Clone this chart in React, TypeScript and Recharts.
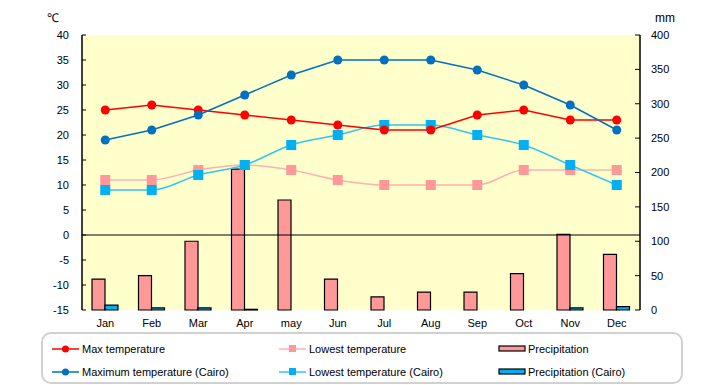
import { ComposedChart, Bar, Line, XAxis, YAxis, ReferenceLine } from 'recharts';

const months = ['Jan', 'Feb', 'Mar', 'Apr', 'may', 'Jun', 'Jul', 'Aug', 'Sep', 'Oct', 'Nov', 'Dec'];
const maxTemp = [25, 26, 25, 24, 23, 22, 21, 21, 24, 25, 23, 23];
const lowTemp = [11, 11, 13, 14, 13, 11, 10, 10, 10, 13, 13, 13];
const precip = [45, 50, 100, 205, 160, 45, 19, 26, 26, 53, 110, 81];
const maxTempCairo = [19, 21, 24, 28, 32, 35, 35, 35, 33, 30, 26, 21];
const lowTempCairo = [9, 9, 12, 14, 18, 20, 22, 22, 20, 18, 14, 10];
const precipCairo = [7, 3, 3, 1, 0, 0, 0, 0, 0, 0, 3, 5];

const tempTicks = [-15, -10, -5, 0, 5, 10, 15, 20, 25, 30, 35, 40];
const mmTicks = [0, 50, 100, 150, 200, 250, 300, 350, 400];

const RED = '#ff0000';
const BLUE = '#0070c0';
const PINK = '#ff9999';
const PINK_LINE = '#ffb0b0';
const CYAN = '#00b0f0';
const CYAN_LINE = '#33c4f4';
const FONT = '"Liberation Sans", Arial, sans-serif';

const data = months.map((m, i) => ({
  month: m,
  maxTemp: maxTemp[i],
  lowTemp: lowTemp[i],
  precip: precip[i],
  maxTempCairo: maxTempCairo[i],
  lowTempCairo: lowTempCairo[i],
  precipCairo: precipCairo[i],
}));

function squareDot(color: string) {
  return (props: any) => {
    const { cx, cy, index } = props;
    if (cx == null || cy == null) return <g key={`sq-${index}`} />;
    return <rect key={`sq-${index}`} x={cx - 5} y={cy - 5} width={10} height={10} fill={color} />;
  };
}

function LegendItem({ kind, color, lineColor, label }: { kind: string; color: string; lineColor?: string; label: string }) {
  return (
    <div style={{ display: 'flex', alignItems: 'center', height: 23 }}>
      <svg width={29} height={12} style={{ display: 'block' }}>
        {kind === 'bar' ? (
          <rect x={1} y={3} width={26} height={5} fill={color} stroke="#000" strokeWidth={1.2} />
        ) : (
          <>
            <line x1={0} y1={6} x2={27} y2={6} stroke={lineColor ?? color} strokeWidth={1.5} />
            {kind === 'circle' ? (
              <circle cx={13.5} cy={6} r={3.5} fill={color} />
            ) : (
              <rect x={10} y={2} width={7} height={7} fill={color} />
            )}
          </>
        )}
      </svg>
      <span style={{ fontFamily: FONT, fontSize: 11, color: '#000', marginLeft: 1 }}>{label}</span>
    </div>
  );
}

export default function App() {
  return (
    <div style={{ position: 'absolute', left: 0, top: 0, width: 720, height: 385, background: '#fff' }}>
      <ComposedChart
        width={720}
        height={385}
        data={data}
        margin={{ top: 35, right: 0, bottom: 55, left: 0 }}
        barSize={13}
        barGap={0}
      >
        <rect x={82} y={35} width={558} height={275} fill="#ffffcc" />
        <XAxis
          dataKey="month"
          axisLine={false}
          tickLine={false}
          height={20}
          tick={{ fontFamily: FONT, fontSize: 11, fill: '#000' }}
          tickMargin={3}
          interval={0}
        />
        <YAxis
          yAxisId="t"
          orientation="left"
          width={82}
          domain={[-15, 40]}
          ticks={tempTicks}
          interval={0}
          axisLine={{ stroke: '#000', strokeWidth: 1.5 }}
          tickLine={{ stroke: '#000' }}
          tickSize={-4}
          tickMargin={17}
          tick={{ fontFamily: FONT, fontSize: 11, fill: '#000' }}
        />
        <YAxis
          yAxisId="mm"
          orientation="right"
          width={80}
          domain={[0, 400]}
          ticks={mmTicks}
          interval={0}
          axisLine={{ stroke: '#000', strokeWidth: 1.5 }}
          tickLine={{ stroke: '#000' }}
          tickSize={-5}
          tickMargin={16}
          tick={{ fontFamily: FONT, fontSize: 11, fill: '#000' }}
        />
        <ReferenceLine yAxisId="t" y={0} stroke="#000" strokeWidth={1.2} />
        <Bar yAxisId="mm" dataKey="precip" fill={PINK} stroke="#000" strokeWidth={1.2} isAnimationActive={false} />
        <Bar yAxisId="mm" dataKey="precipCairo" fill={CYAN} stroke="#000" strokeWidth={1.2} isAnimationActive={false} />
        <Line
          yAxisId="t"
          type="monotone"
          dataKey="lowTemp"
          stroke={PINK_LINE}
          strokeWidth={1.5}
          dot={squareDot(PINK)}
          isAnimationActive={false}
        />
        <Line
          yAxisId="t"
          type="monotone"
          dataKey="lowTempCairo"
          stroke={CYAN_LINE}
          strokeWidth={1.5}
          dot={squareDot(CYAN)}
          isAnimationActive={false}
        />
        <Line
          yAxisId="t"
          type="linear"
          dataKey="maxTemp"
          stroke={RED}
          strokeWidth={1.5}
          dot={{ r: 4.5, fill: RED, stroke: RED, strokeWidth: 0 }}
          isAnimationActive={false}
        />
        <Line
          yAxisId="t"
          type="linear"
          dataKey="maxTempCairo"
          stroke={BLUE}
          strokeWidth={1.5}
          dot={{ r: 4.5, fill: BLUE, stroke: BLUE, strokeWidth: 0 }}
          isAnimationActive={false}
        />
        <text x={47} y={22} fontFamily={FONT} fontSize={12} fill="#000">℃</text>
        <text x={655} y={22} fontFamily={FONT} fontSize={12} fill="#000">mm</text>
      </ComposedChart>
      <div
        style={{
          position: 'absolute',
          left: 41,
          top: 332,
          width: 638,
          height: 48,
          border: '2px solid #d0d0d0',
          borderRadius: 10,
          boxSizing: 'content-box',
        }}
      >
        <div style={{ position: 'absolute', left: 9, top: 3 }}>
          <LegendItem kind="circle" color={RED} label="Max temperature" />
          <LegendItem kind="circle" color={BLUE} label="Maximum temperature (Cairo)" />
        </div>
        <div style={{ position: 'absolute', left: 236, top: 3 }}>
          <LegendItem kind="square" color={PINK} lineColor={PINK_LINE} label="Lowest temperature" />
          <LegendItem kind="square" color={CYAN} lineColor={CYAN_LINE} label="Lowest temperature (Cairo)" />
        </div>
        <div style={{ position: 'absolute', left: 455, top: 3 }}>
          <LegendItem kind="bar" color={PINK} label="Precipitation" />
          <LegendItem kind="bar" color={CYAN} label="Precipitation (Cairo)" />
        </div>
      </div>
    </div>
  );
}
